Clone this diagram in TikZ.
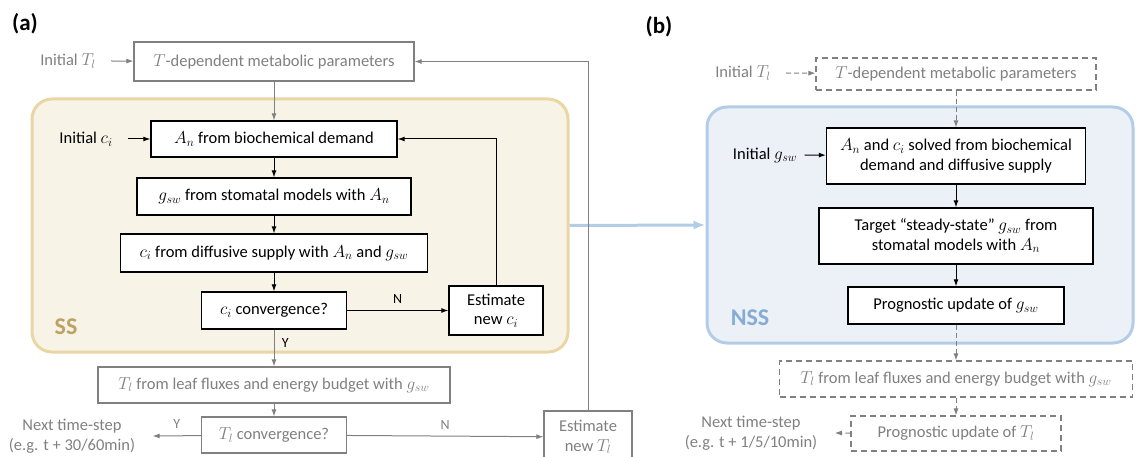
\documentclass[tikz,border=0pt]{standalone}
\usepackage{fontspec}
\setmainfont{Carlito}
\usetikzlibrary{arrows.meta}

\definecolor{ssfill}{RGB}{248,243,231}
\definecolor{ssline}{RGB}{233,214,163}
\definecolor{sstext}{RGB}{190,162,100}
\definecolor{nssfill}{RGB}{236,241,248}
\definecolor{nssline}{RGB}{180,205,230}
\definecolor{nsstext}{RGB}{132,172,212}
\definecolor{outgray}{RGB}{128,128,128}

\tikzset{
    box/.style={draw=black, line width=1.3pt, fill=white, inner sep=0pt, align=center},
    gbox/.style={draw=outgray, line width=1.1pt, fill=white, text=outgray, inner sep=0pt, align=center},
    dbox/.style={gbox, dash pattern=on 6pt off 4pt},
    arr/.style={-{Latex[length=7pt,width=5pt]}, line width=1pt},
    garr/.style={arr, draw=outgray},
    darr/.style={garr, dash pattern=on 5pt off 3pt},
    barr/.style={-{Latex[length=12pt,width=9pt]}, draw=nssline, line width=3pt},
    region/.style={line width=3pt, rounded corners=20pt, inner sep=0pt},
    tag/.style={font=\bfseries\fontsize{23}{26}\selectfont},
    lbl/.style={font=\fontsize{14}{16}\selectfont},
}

\begin{document}
\begin{tikzpicture}[x=1pt, y=-1pt, font=\fontsize{16.5}{19.5}\selectfont]
        \useasboundingbox (0,0) rectangle (1136,457);

        % (a) steady-state scheme
        \node[region, draw=ssline, fill=ssfill, minimum width=536, minimum height=253] (ss) at (300,225.5) {};
        \node[region, draw=nssline, fill=nssfill, minimum width=426, minimum height=236] (nss) at (920,225) {};
        \node[tag] (la) at (25,24) {(a)};
        \node[text=outgray] (tinit) at (68,61) {Initial $T_l$};
        \node[gbox, minimum width=280, minimum height=39] (tpar) at (274,61.5) {$T$-dependent metabolic parameters};
        \node (cinit) at (86,139) {Initial $c_i$};
        \node[box, minimum width=246, minimum height=36] (an) at (274,139) {$A_n$ from biochemical demand};
        \node[box, minimum width=274, minimum height=37] (gsw) at (274,196.5) {$g_{sw}$ from stomatal models with $A_n$};
        \node[box, minimum width=307, minimum height=38] (ci) at (274,253) {$c_i$ from diffusive supply with $A_n$ and $g_{sw}$};
        \node[box, minimum width=145, minimum height=37] (cconv) at (274,310.5) {$c_i$ convergence?};
        \node[box, minimum width=94, minimum height=49] (cnew) at (496,310.5) {Estimate\\new $c_i$};
        \node[tag, text=sstext, font=\bfseries\fontsize{24}{28}\selectfont] (sslab) at (66,327) {SS};
        \node[gbox, minimum width=352, minimum height=36] (tleaf) at (274,385) {$T_l$ from leaf fluxes and energy budget with $g_{sw}$};
        \node[gbox, minimum width=145, minimum height=36] (tconv) at (274,435) {$T_l$ convergence?};
        \node[text=outgray, align=center] (tnext) at (72,436) {Next time-step\\(e.g. t + 30/60min)};
        \node[gbox, minimum width=88, minimum height=52] (tnew) at (588,437) {Estimate\\new $T_l$};

        \draw[garr] ([xshift=12pt]tinit.east) -- (tpar);
        \draw[garr] (tpar) -- (an);
        \draw[arr] ([xshift=12pt]cinit.east) -- (an);
        \draw[arr] (an) -- (gsw);
        \draw[arr] (gsw) -- (ci);
        \draw[arr] (ci) -- (cconv);
        \draw[arr] (cconv) -- node[lbl, above=3pt] {N} (cnew);
        \draw[arr] (cnew.north) |- (an.east);
        \draw[garr] (cconv) -- node[lbl, right=4pt, pos=0.35] {Y} (tleaf);
        \draw[garr] (tleaf) -- (tconv);
        \draw[garr] (tconv) -- node[lbl, text=outgray, above=3pt] {Y} ([xshift=14pt]tnext.east);
        \draw[garr] (tconv) -- node[lbl, text=outgray, above=3pt] {N} (tnew);
        \draw[barr] (ss.east) -- (nss.west);
        \draw[garr] (tnew.north) |- (tpar.east);

        % (b) non-steady-state scheme
        \node[tag] (lb) at (659,27) {(b)};
        \node[text=outgray] (tinitb) at (743,73) {Initial $T_l$};
        \node[dbox, minimum width=280, minimum height=32] (tparb) at (956,74) {$T$-dependent metabolic parameters};
        \node (ginit) at (765,155) {Initial $g_{sw}$};
        \node[box, minimum width=259, minimum height=56] (b1) at (956,156) {$A_n$ and $c_i$ solved from biochemical\\demand and diffusive supply};
        \node[box, minimum width=274, minimum height=56] (b2) at (956,236) {Target “steady-state” $g_{sw}$ from\\stomatal models with $A_n$};
        \node[box, minimum width=216, minimum height=37] (b3) at (956,305.5) {Prognostic update of $g_{sw}$};
        \node[tag, text=nsstext, font=\bfseries\fontsize{24}{28}\selectfont] (nsslab) at (750,318) {NSS};
        \node[dbox, minimum width=353, minimum height=36] (b4) at (956,379) {$T_l$ from leaf fluxes and energy budget with $g_{sw}$};
        \node[dbox, minimum width=210, minimum height=35] (b5) at (956,433.5) {Prognostic update of $T_l$};
        \node[text=outgray, align=center] (bnext) at (751,433) {Next time-step\\(e.g. t + 1/5/10min)};

        \draw[darr] ([xshift=12pt]tinitb.east) -- (tparb);
        \draw[darr] (tparb) -- (b1);
        \draw[arr] ([xshift=4pt]ginit.east) -- (b1);
        \draw[arr] (b1) -- (b2);
        \draw[arr] (b2) -- (b3);
        \draw[darr] (b3) -- (b4);
        \draw[darr] (b4) -- (b5);
        \draw[darr] (b5) -- ([xshift=14pt]bnext.east);
\end{tikzpicture}
\end{document}
